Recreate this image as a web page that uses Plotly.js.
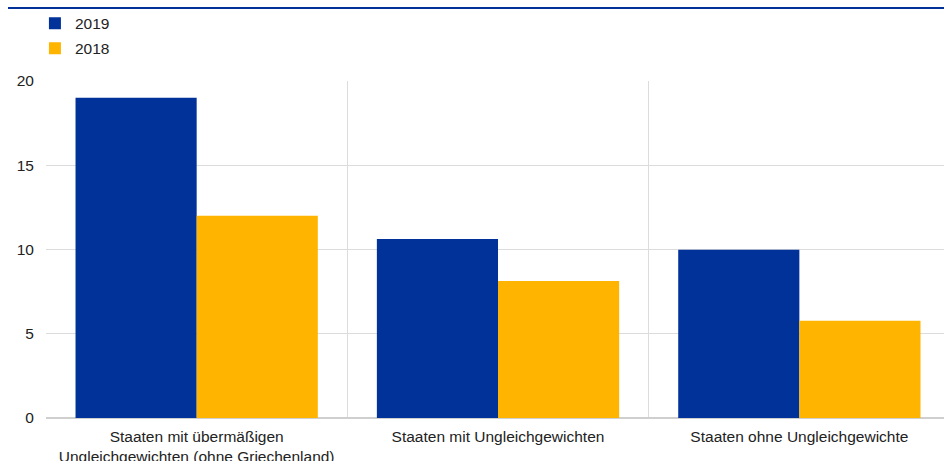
<!DOCTYPE html>
<html>
<head>
<meta charset="utf-8">
<script src="https://cdn.plot.ly/plotly-3.0.1.min.js"></script>
<style>html,body{margin:0;padding:0;overflow:hidden;background:#fff;}</style>
</head>
<body>
<div id="chart" style="width:944px;height:461px;"></div>
<script>
const categories = [
  "Staaten mit übermäßigen<br>Ungleichgewichten (ohne Griechenland)",
  "Staaten mit Ungleichgewichten",
  "Staaten ohne Ungleichgewichte"
];
const series2019 = [19.0, 10.62, 9.98];
const series2018 = [12.0, 8.13, 5.77];
const seriesNames = ["2019", "2018"];
const yTicks = [0, 5, 10, 15, 20];

const data = [
  {type: "bar", name: seriesNames[0], x: categories, y: series2019,
   legendgroup: "a", marker: {color: "#003299"}, hoverinfo: "y"},
  {type: "bar", name: seriesNames[1], x: categories, y: series2018,
   legendgroup: "b", marker: {color: "#FFB400"}, hoverinfo: "y"}
];

const layout = {
  width: 944, height: 461,
  margin: {l: 46, r: 0, t: 81, b: 43, autoexpand: false},
  paper_bgcolor: "#fff", plot_bgcolor: "#fff",
  font: {family: "Liberation Sans, Arial, sans-serif", size: 15.5, color: "#222"},
  barmode: "group",
  bargap: 0.196,
  bargroupgap: 0,
  showlegend: true,
  legend: {xref: "container", yref: "container",
           x: 0.037, y: 0.9857, xanchor: "left", yanchor: "top",
           traceorder: "grouped", tracegroupgap: 2,
           font: {size: 15.5}, bgcolor: "rgba(0,0,0,0)"},
  xaxis: {
    type: "category",
    range: [-0.5, 2.48],
    tickson: "boundaries",
    showgrid: true, gridcolor: "#dcdcdc", gridwidth: 1,
    ticks: "", showline: false, zeroline: false,
    tickangle: 0, automargin: false,
    ticklabelstandoff: 7,
    tickfont: {size: 15.5, color: "#222"}
  },
  yaxis: {
    range: [0, 20],
    tickvals: yTicks,
    automargin: false,
    showgrid: true, gridcolor: "#dcdcdc", gridwidth: 1,
    zeroline: true, zerolinecolor: "#cfcfcf", zerolinewidth: 1.5,
    ticks: "outside", ticklen: 8, tickcolor: "rgba(0,0,0,0)",
    tickfont: {size: 15.5, color: "#222"},
    showline: false
  },
  shapes: [
    {type: "line", xref: "paper", yref: "paper",
     x0: -0.0423, x1: 1.01, y0: 1.2166, y1: 1.2166,
     line: {color: "#003299", width: 2}}
  ]
};

Plotly.newPlot("chart", data, layout, {displayModeBar: false, staticPlot: true});
</script>
</body>
</html>
